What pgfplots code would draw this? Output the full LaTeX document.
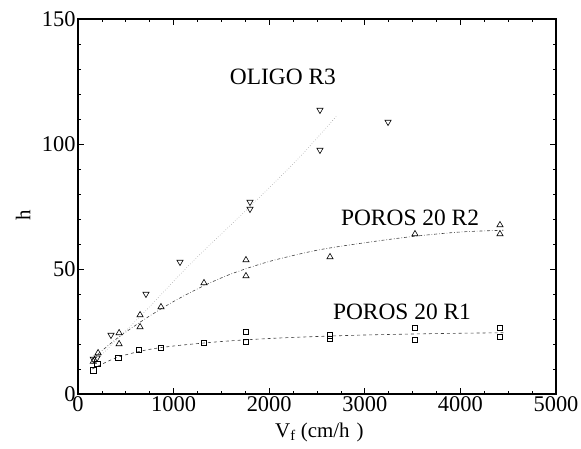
\documentclass[border=0pt]{standalone}
\usepackage{pgfplots}
\pgfplotsset{compat=1.18}
\usepackage{fontspec}
\setmainfont{Liberation Serif}
\usetikzlibrary{calc}
\begin{document}
\begin{tikzpicture}
  \begin{axis}[
      scale only axis,
      width=478bp, height=375bp,
      xmin=0, xmax=5000, ymin=0, ymax=150,
      xtick={0,1000,...,5000}, ytick={0,50,100,150},
      minor x tick num=3, minor y tick num=4,
      tick align=inside, tick pos=both,
      major tick length=6bp, minor tick length=3.5bp,
      axis line style={line width=1.3pt},
      every tick/.style={black, line width=0.7pt},
      scaled x ticks=false,
      /pgf/number format/1000 sep={},
      /pgf/number format/assume math mode=true,
      tick label style={font=\fontsize{22.5}{26}\selectfont},
      label style={font=\fontsize{21}{24}\selectfont},
      xticklabel style={yshift=1bp},
      yticklabel style={xshift=1bp},
      xlabel={V$_{\mathrm{f}}$ (cm/h\,\,)},
      ylabel={h},
      xlabel style={at={(axis description cs:0.505,0)}, anchor=base, yshift=-43bp},
      ylabel style={at={(axis description cs:-0.115,0.477)}, anchor=center},
    ]
    \coordinate (sw) at (rel axis cs:0,0);
    \coordinate (ne) at (rel axis cs:1,1);
    % fit curves
    \addplot[gray!70, line width=0.6pt, dotted, smooth] coordinates {
      (150,12) (700,33) (1200,53) (1800,75) (2300,94) (2700,111)};
    \addplot[black!75, line width=0.6pt, dash dot, smooth] coordinates {
      (150,14) (400,22) (700,30) (1000,37) (1300,43) (1600,48)
      (2000,53) (2500,57.5) (3000,60.5) (3500,63) (4000,64.8) (4450,65.5)};
    \addplot[black!75, line width=0.6pt, dashed, smooth] coordinates {
      (150,10) (400,14.5) (700,17.5) (1000,19.2) (1500,21) (2000,22.2)
      (2500,23) (3000,23.6) (3500,24) (4000,24.3) (4450,24.5)};
    % OLIGO R3
    \addplot[only marks, mark=triangle, mark size=3.6pt,
      mark options={rotate=180, line width=0.6pt}] coordinates {
      (160,14) (200,14.5) (345,23.6) (711,40) (1067,52.8)
      (1799,76.8) (1799,74) (2531,113.6) (2531,97.6) (3243,108.8)};
    % POROS 20 R2
    \addplot[only marks, mark=triangle, mark size=3.6pt,
      mark options={line width=0.6pt}] coordinates {
      (160,13) (210,16.4) (430,24.4) (430,20) (649,31.6) (649,26.8)
      (868,34.8) (1318,44.4) (1757,53.6) (1757,47.2) (2636,54.8)
      (3525,64) (4414,67.6) (4414,64)};
    % POROS 20 R1
    \addplot[only marks, mark=square, mark size=2.8pt,
      mark options={line width=0.6pt}] coordinates {
      (160,9.5) (200,12) (420,14.4) (638,17.6) (868,18.4) (1318,20.4)
      (1757,24.8) (1757,20.8) (2636,23.4) (2636,22) (3525,26.4) (3525,21.6)
      (4414,26.4) (4414,22.8)};
    \node[font=\fontsize{23.5}{26}\selectfont] at (axis cs:2144,126.8) {OLIGO R3};
    \node[font=\fontsize{23.5}{26}\selectfont] at (axis cs:3473,70.4) {POROS 20 R2};
    \node[font=\fontsize{23.5}{26}\selectfont] at (axis cs:3389,32.8) {POROS 20 R1};
  \end{axis}
  \pgfresetboundingbox
  \path ($(sw)+(-78bp,-55bp)$) rectangle ($(ne)+(25bp,19bp)$);
\end{tikzpicture}
\end{document}
